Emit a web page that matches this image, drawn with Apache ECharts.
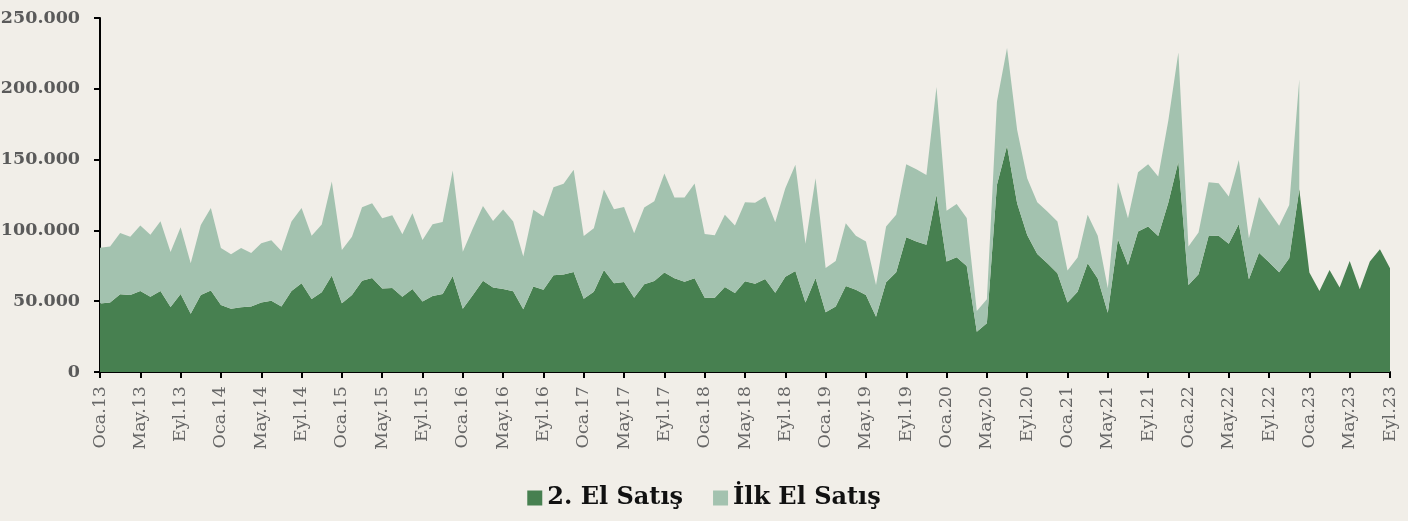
<!DOCTYPE html>
<html lang="tr">
<head>
<meta charset="UTF-8">
<title>Konut Satışları</title>
<script src="https://cdn.jsdelivr.net/npm/echarts@6/dist/echarts.min.js"></script>
<style>
  html, body { margin: 0; padding: 0; background: #f1eee8; }
  #chart { width: 1408px; height: 521px; }
</style>
</head>
<body>
<div id="chart"></div>
<script>
// ay kısaltmaları ve yıllar (Oca.13 - Eyl.23)
const aylar = ['Oca', 'Şub', 'Mar', 'Nis', 'May', 'Haz', 'Tem', 'Ağu', 'Eyl', 'Eki', 'Kas', 'Ara'];
const yillar = ['13', '14', '15', '16', '17', '18', '19', '20', '21', '22', '23'];

// 2. El Satış
const ikinciEl = [
  48300, 49000, 54900, 54400, 57200, 53200, 57200, 45900, 55100, 41200,
  54400, 57500, 47300, 44700, 45700, 46200, 49000, 50400, 46200, 57200,
  62700, 51600, 56300, 68100, 48500, 54400, 64500, 66400, 58900, 59400,
  53200, 58700, 49700, 53700, 55100, 67800, 44700, 54400, 64500, 59600,
  58700, 57000, 44300, 60300, 58000, 68300, 68800, 70700, 51800, 56700,
  72100, 62700, 63600, 52500, 62000, 64300, 70200, 66200, 63800, 66200,
  52500, 52500, 60100, 55800, 64100, 62400, 65700, 56000, 67300, 71400,
  49000, 66400, 42200, 46200, 60800, 58000, 54400, 39100, 63400, 70500,
  95200, 92100, 89800, 125100, 78000, 81100, 74900, 28500, 34400, 132200,
  159700, 119200, 96800, 83400, 76800, 69800, 49000, 56700, 76800, 66000,
  41900, 93800, 75600, 99200, 102700, 96100, 119600, 148600, 61500, 69000,
  96100, 96300, 90500, 104600, 65500, 84300, 77500, 70500, 80400, 129100,
  70200, 57200, 72100, 59600, 78400, 58400, 78000, 86700, 73300
];

// İlk El Satış (Ara.22 sonrası veri yok)
const ilkEl = [
  39500, 39600, 43300, 41200, 46200, 43800, 49300, 38900, 47100, 35600,
  49500, 58400, 40300, 38500, 41900, 37900, 41900, 42700, 39300, 49000,
  53200, 44700, 47800, 66400, 37700, 41200, 51900, 52800, 49700, 51300,
  44100, 53400, 43600, 50700, 50900, 74500, 40300, 47100, 52800, 47100,
  56000, 49200, 37200, 54200, 51800, 62200, 64100, 72100, 44300, 44800,
  56700, 52300, 53000, 45500, 54100, 56300, 69900, 57000, 59400, 66900,
  45000, 44100, 50900, 47600, 55800, 57200, 58200, 49800, 62500, 74900,
  41500, 70500, 31300, 32200, 44300, 38300, 37700, 22400, 39300, 40500,
  51600, 51100, 49400, 76100, 35800, 37600, 33900, 14600, 17000, 58800,
  69100, 51800, 40100, 36500, 36500, 36400, 22600, 24100, 34200, 30200,
  17200, 40200, 33000, 41900, 44100, 41900, 57800, 77100, 27100, 29500,
  37900, 37000, 33400, 45200, 29000, 39200, 35800, 32700, 37600, 77700,
  null, null, null, null, null, null, null, null, null
];

const donemler = [];
yillar.forEach(y => aylar.forEach(a => donemler.push(a + '.' + y)));
donemler.length = ikinciEl.length;

const serif = 'DejaVu Serif';
const fmt = v => String(v).replace(/\B(?=(\d{3})+(?!\d))/g, '.');

const chart = echarts.init(document.getElementById('chart'));
chart.setOption({
  backgroundColor: '#f1eee8',
  animation: false,
  grid: { left: 100, right: 18, top: 18, bottom: 149, containLabel: false, outerBoundsMode: 'none' },
  legend: {
    bottom: 6,
    left: 'center',
    itemWidth: 15,
    itemHeight: 15,
    itemGap: 30,
    icon: 'rect',
    textStyle: { fontFamily: serif, fontWeight: 'bold', fontSize: 24, color: '#111' },
    data: ['2. El Satış', 'İlk El Satış']
  },
  xAxis: {
    type: 'category',
    boundaryGap: false,
    data: donemler,
    axisLine: { lineStyle: { color: '#000', width: 2 } },
    axisTick: { show: true, interval: 3, length: 6, lineStyle: { color: '#000', width: 2 } },
    axisLabel: {
      interval: 3,
      rotate: 90,
      margin: 14,
      fontFamily: serif,
      fontSize: 17.5,
      color: '#666'
    },
    splitLine: { show: false }
  },
  yAxis: {
    type: 'value',
    min: 0,
    max: 250000,
    interval: 50000,
    axisLine: { show: true, lineStyle: { color: '#000', width: 2 } },
    axisTick: { show: true, length: 6, lineStyle: { color: '#000', width: 2 } },
    axisLabel: {
      margin: 20,
      fontFamily: serif,
      fontWeight: 'bold',
      fontSize: 17.5,
      color: '#5a5a5a',
      formatter: fmt
    },
    splitLine: { show: false }
  },
  series: [
    {
      name: '2. El Satış',
      type: 'line',
      stack: 'toplam',
      data: ikinciEl,
      symbol: 'none',
      lineStyle: { width: 0 },
      areaStyle: { color: '#478050', opacity: 1 },
      itemStyle: { color: '#478050' }
    },
    {
      name: 'İlk El Satış',
      type: 'line',
      stack: 'toplam',
      data: ilkEl,
      symbol: 'none',
      lineStyle: { width: 0 },
      areaStyle: { color: '#a3c2af', opacity: 1 },
      itemStyle: { color: '#a3c2af' }
    }
  ]
});
</script>
</body>
</html>
